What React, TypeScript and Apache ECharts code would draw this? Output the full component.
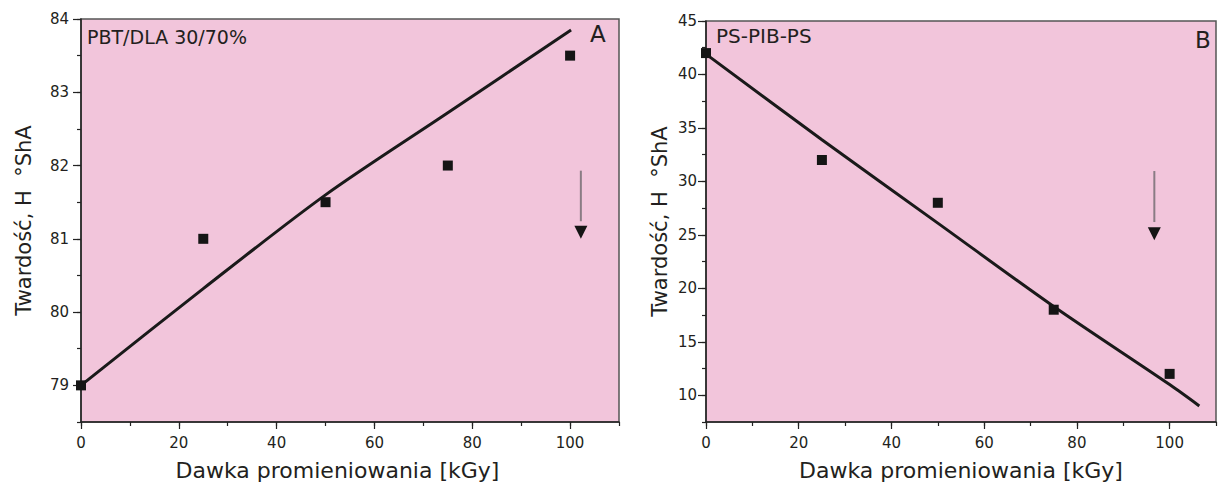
import { useEffect, useRef } from "react";
import * as echarts from "echarts";

// ---- data ----
const doses = [0, 25, 50, 75, 100];
const hardnessA = [79, 81, 81.5, 82, 83.5];
const hardnessB = [42, 32, 28, 18, 12];

const fitDoseA = [0, 25, 50, 75, 100.2];
const fitHardnessA = [79.0, 80.32, 81.6, 82.72, 83.85];
const fitDoseB = [0, 25, 50, 75, 100, 106.4];
const fitHardnessB = [41.9, 33.9, 26.1, 18.3, 11.0, 9.0];

const xTickLabels = [0, 20, 40, 60, 80, 100];
const yTickLabelsA = [79, 80, 81, 82, 83, 84];
const yTickLabelsB = [10, 15, 20, 25, 30, 35, 40, 45];

// arrow annotations (panel A, panel B)
const arrowDose = [102.2, 96.7];
const arrowShaftTop = [81.93, 30.97];
const arrowShaftBottom = [81.24, 26.2];
const arrowHead = [81.09, 25.1];

const FONT = "DejaVu Sans";
const TXT = "#231f20";
const PINK = "#f2c5db";

function pairs(xs: number[], ys: number[]) {
  return xs.map((x, i) => [x, ys[i]]);
}

export default function App() {
  const ref = useRef<HTMLDivElement>(null);
  useEffect(() => {
    if (!ref.current) return;
    const chart = echarts.init(ref.current, null, { renderer: "svg" });

    const mainX = (gridIndex: number, namePad: number[]) => ({
      type: "value",
      gridIndex,
      position: "bottom",
      min: 0,
      max: 110,
      interval: 10,
      splitLine: { show: false },
      axisLine: { show: true, lineStyle: { color: "#222", width: 1.5 } },
      axisTick: { show: true, length: 4, lineStyle: { color: "#222", width: 1.2 } },
      axisLabel: {
        margin: 13,
        fontFamily: FONT,
        fontSize: 15,
        color: TXT,
        formatter: (v: number) => (xTickLabels.includes(v) ? String(v) : ""),
      },
      name: "Dawka promieniowania [kGy]",
      nameLocation: "middle",
      nameGap: 37,
      nameTextStyle: { fontFamily: FONT, fontSize: 22, color: TXT, padding: namePad },
    });
    const majorX = (gridIndex: number) => ({
      type: "value",
      gridIndex,
      position: "bottom",
      min: 0,
      max: 110,
      interval: 10,
      splitLine: { show: false },
      axisLine: { show: false },
      axisTick: { show: true, length: 7, customValues: xTickLabels, lineStyle: { color: "#222", width: 1.2 } },
      axisLabel: { show: false },
    });
    const mainY = (gridIndex: number, min: number, max: number, interval: number, labels: number[], gap: number, margin: number) => ({
      type: "value",
      gridIndex,
      position: "left",
      min,
      max,
      interval,
      splitLine: { show: false },
      axisLine: { show: true, lineStyle: { color: "#222", width: 1.5 } },
      axisTick: { show: true, length: 4, lineStyle: { color: "#222", width: 1.2 } },
      axisLabel: {
        margin,
        fontFamily: FONT,
        fontSize: 15,
        color: TXT,
        formatter: (v: number) => (labels.includes(v) ? String(v) : ""),
      },
      name: "Twardość, H  °ShA",
      nameLocation: "middle",
      nameGap: gap,
      nameRotate: 90,
      nameTextStyle: { fontFamily: FONT, fontSize: 21, color: TXT },
    });
    const majorY = (gridIndex: number, min: number, max: number, interval: number, labels: number[]) => ({
      type: "value",
      gridIndex,
      position: "left",
      min,
      max,
      interval,
      splitLine: { show: false },
      axisLine: { show: false },
      axisTick: { show: true, length: 8, customValues: labels, lineStyle: { color: "#222", width: 1.2 } },
      axisLabel: { show: false },
    });

    const scatter = (xi: number, yi: number, ys: number[]) => ({
      type: "scatter",
      xAxisIndex: xi,
      yAxisIndex: yi,
      symbol: "rect",
      symbolSize: 10,
      itemStyle: { color: "#151515", opacity: 1 },
      data: pairs(doses, ys),
      z: 5,
    });
    const fit = (xi: number, yi: number, xs: number[], ys: number[]) => ({
      type: "line",
      xAxisIndex: xi,
      yAxisIndex: yi,
      smooth: 0.3,
      symbol: "none",
      lineStyle: { color: "#1a1a1a", width: 3 },
      data: pairs(xs, ys),
      z: 4,
    });
    const shaft = (xi: number, yi: number, k: number) => ({
      type: "line",
      xAxisIndex: xi,
      yAxisIndex: yi,
      symbol: "none",
      lineStyle: { color: "#8a7c84", width: 2 },
      data: [
        [arrowDose[k], arrowShaftTop[k]],
        [arrowDose[k], arrowShaftBottom[k]],
      ],
    });
    const head = (xi: number, yi: number, k: number) => ({
      type: "scatter",
      xAxisIndex: xi,
      yAxisIndex: yi,
      symbol: "triangle",
      symbolRotate: 180,
      symbolSize: [13, 13],
      itemStyle: { color: "#151515", opacity: 1 },
      data: [[arrowDose[k], arrowHead[k]]],
    });

    chart.setOption({
      animation: false,
      grid: [
        { left: 81, top: 19, right: 601, bottom: 63, show: true, backgroundColor: PINK, borderColor: "#555", borderWidth: 1.5 },
        { left: 706, top: 21, right: 4, bottom: 64, show: true, backgroundColor: PINK, borderColor: "#555", borderWidth: 1.5 },
      ],
      xAxis: [mainX(0, [0, 25, 0, 0]), majorX(0), mainX(1, [0, 0, 0, 0]), majorX(1)],
      yAxis: [
        mainY(0, 78.5, 84, 0.5, yTickLabelsA, 47, 12),
        majorY(0, 78.5, 84, 0.5, yTickLabelsA),
        mainY(1, 7.5, 45, 2.5, yTickLabelsB, 36, 9),
        majorY(1, 7.5, 45, 2.5, yTickLabelsB),
      ],
      series: [
        fit(0, 0, fitDoseA, fitHardnessA),
        scatter(0, 0, hardnessA),
        shaft(0, 0, 0),
        head(0, 0, 0),
        fit(2, 2, fitDoseB, fitHardnessB),
        scatter(2, 2, hardnessB),
        shaft(2, 2, 1),
        head(2, 2, 1),
      ],
      graphic: [
        { type: "text", left: 87, top: 27, style: { text: "PBT/DLA 30/70%", fontFamily: FONT, fontSize: 19, fill: TXT } },
        { type: "text", left: 590, top: 22, style: { text: "A", fontFamily: FONT, fontSize: 23, fill: TXT } },
        { type: "text", left: 716, top: 26, style: { text: "PS-PIB-PS", fontFamily: FONT, fontSize: 20, fill: TXT } },
        { type: "text", left: 1195, top: 28, style: { text: "B", fontFamily: FONT, fontSize: 23, fill: TXT } },
      ],
    });
    return () => chart.dispose();
  }, []);
  return (
    <div
      ref={ref}
      style={{ position: "fixed", left: 0, top: 0, width: 1220, height: 486, background: "#fff" }}
    />
  );
}
